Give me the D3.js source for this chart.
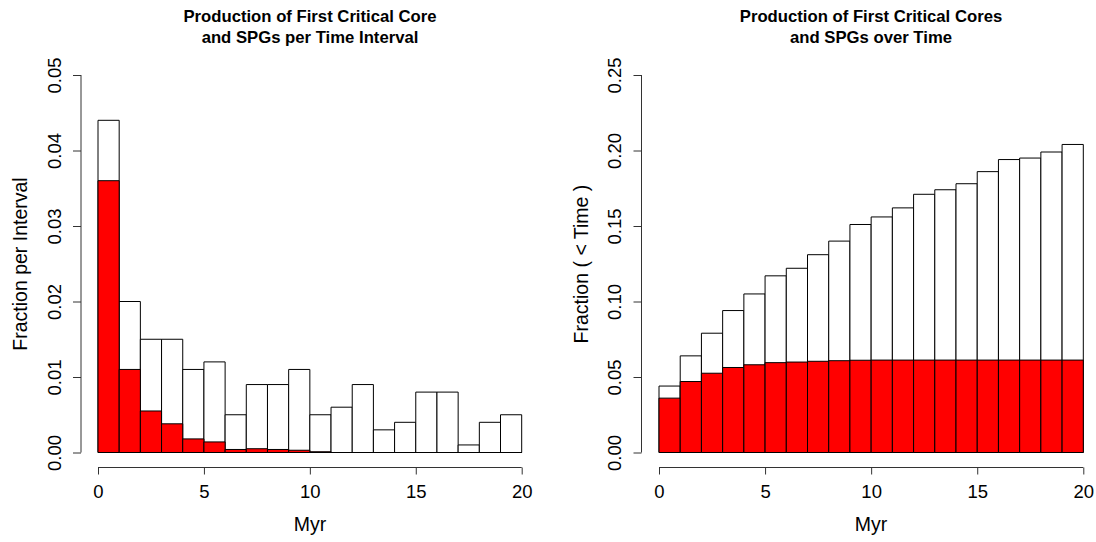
<!DOCTYPE html>
<html>
<head>
<meta charset="utf-8">
<script src="https://cdn.jsdelivr.net/npm/d3@7"></script>
<style>
html,body{margin:0;padding:0;background:#fff;}
svg{display:block;font-family:"Liberation Sans",Arial,Helvetica,sans-serif;}
</style>
</head>
<body>
<svg id="chart" width="1096" height="542"></svg>
<script>
// Bin edges (Myr)
const binEdges = [0,1,2,3,4,5,6,7,8,9,10,11,12,13,14,15,16,17,18,19,20];
// Left panel: fraction per interval
const perIntervalTotal = [0.044,0.020,0.015,0.015,0.011,0.012,0.005,0.009,0.009,0.011,0.005,0.006,0.009,0.003,0.004,0.008,0.008,0.001,0.004,0.005];
const perIntervalRed   = [0.036,0.011,0.0055,0.0038,0.0018,0.0014,0.0004,0.0005,0.0004,0.0003,0.0001,0,0,0,0,0,0,0,0,0];
// Right panel: cumulative fraction
const cumulativeTotal = [0.044,0.064,0.079,0.094,0.105,0.117,0.122,0.131,0.140,0.151,0.156,0.162,0.171,0.174,0.178,0.186,0.194,0.195,0.199,0.204];
const cumulativeRed   = [0.036,0.047,0.0525,0.0563,0.0581,0.0595,0.0599,0.0604,0.0608,0.0611,0.0612,0.0612,0.0612,0.0612,0.0612,0.0612,0.0612,0.0612,0.0612,0.0612];
// Tick labels
const xTicks = [0,5,10,15,20];
const leftYTicks = [0,0.01,0.02,0.03,0.04,0.05];
const rightYTicks = [0,0.05,0.10,0.15,0.20,0.25];

const svg = d3.select("#chart");
const TICK_FS = 18.5, LAB_FS = 19.5, TITLE_FS = 16.7;

function panel(cfg){
  const g = svg.append("g");
  const x = d3.scaleLinear().domain([0,20]).range(cfg.xr);
  const y = d3.scaleLinear().domain(cfg.yd).range([452.5,75]);
  const bins = binEdges.slice(0,-1).map((e,i)=>({x0:e,x1:binEdges[i+1],t:cfg.total[i],r:cfg.red[i]}));
  const barPath = (x0,x1,v)=>{
    const X0=x(x0),X1=x(x1),Y0=y(0),Y1=y(v);
    return `M${X0},${Y0}L${X0},${Y1}L${X1},${Y1}L${X1},${Y0}Z`;
  };
  g.selectAll("path.tot").data(bins).join("path").attr("class","tot")
    .attr("d",d=>barPath(d.x0,d.x1,d.t)).attr("fill","#fff").attr("stroke","#000").attr("stroke-width",1);
  g.selectAll("path.red").data(bins).join("path").attr("class","red")
    .attr("d",d=>barPath(d.x0,d.x1,d.r)).attr("fill","#ff0000").attr("stroke","#000").attr("stroke-width",1);

  // x axis
  const xa = g.append("g").attr("transform","translate(0,467.5)")
    .call(d3.axisBottom(x).tickValues(xTicks).tickSize(7).tickSizeOuter(0).tickFormat(d3.format("d")));
  xa.select(".domain").attr("d",`M${x(0)},0H${x(20)}`).attr("stroke","#333");
  xa.selectAll(".tick line").attr("stroke","#333");
  xa.selectAll(".tick text").attr("y",24).attr("dy",null).attr("dominant-baseline","central")
    .attr("font-size",TICK_FS).attr("fill","#000");
  // y axis
  const ya = g.append("g").attr("transform",`translate(${cfg.yAxisX},0)`)
    .call(d3.axisLeft(y).tickValues(cfg.yTicks).tickSize(8).tickSizeOuter(0).tickFormat(d3.format(".2f")));
  ya.select(".domain").attr("d",`M0,${y(cfg.yd[0])}V${y(cfg.yd[1])}`).attr("stroke","#333");
  ya.selectAll(".tick line").attr("stroke","#333");
  ya.selectAll(".tick text")
    .attr("x",null).attr("dy",null)
    .attr("transform",`translate(${cfg.yLabelX - cfg.yAxisX},0) rotate(-90)`)
    .attr("text-anchor","middle").attr("dominant-baseline","central")
    .attr("font-size",TICK_FS).attr("fill","#000");

  // axis titles
  g.append("text").attr("x",cfg.cx).attr("y",524).attr("text-anchor","middle")
    .attr("dominant-baseline","central").attr("font-size",LAB_FS).text("Myr");
  g.append("text").attr("transform",`translate(${cfg.ylabX},264) rotate(-90)`)
    .attr("text-anchor","middle").attr("dominant-baseline","central").attr("font-size",LAB_FS).text(cfg.ylab);
  // title
  cfg.title.forEach((t,i)=>{
    g.append("text").attr("x",cfg.cx).attr("y",22+i*21).attr("text-anchor","middle")
      .attr("font-size",TITLE_FS).attr("font-weight","bold").text(t);
  });
}

panel({xr:[98,521.7], yd:[0,0.05], total:perIntervalTotal, red:perIntervalRed, yTicks:leftYTicks,
  yAxisX:81, yLabelX:54, ylabX:20, cx:310, ylab:"Fraction per Interval",
  title:["Production of First Critical Core","and SPGs per Time Interval"]});
panel({xr:[659,1083.3], yd:[0,0.25], total:cumulativeTotal, red:cumulativeRed, yTicks:rightYTicks,
  yAxisX:641.5, yLabelX:614, ylabX:581, cx:871, ylab:"Fraction ( < Time )",
  title:["Production of First Critical Cores","and SPGs over Time"]});
</script>
</body>
</html>
